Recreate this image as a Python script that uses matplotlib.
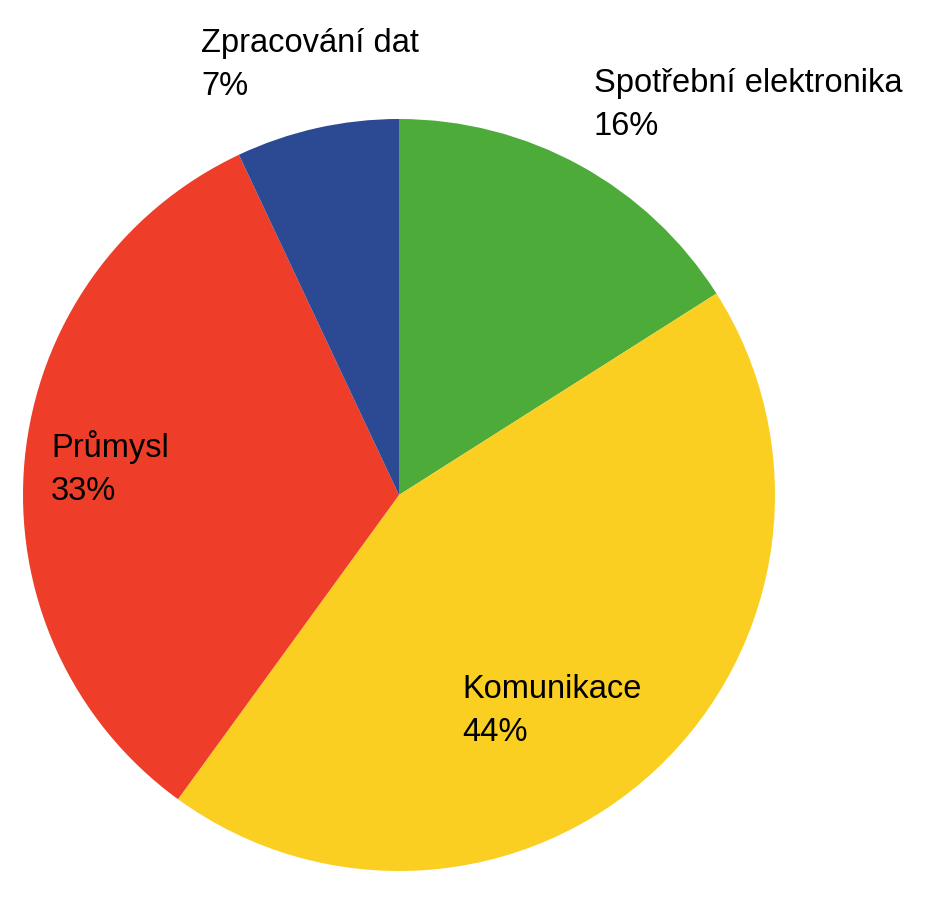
import matplotlib
matplotlib.use("Agg")
import matplotlib.pyplot as plt

# data
categories = ["Spotřební elektronika", "Komunikace", "Průmysl", "Zpracování dat"]
shares = [16, 44, 33, 7]
colors = ["#4DAB3A", "#FBCF22", "#EE3E2A", "#2C4A93"]

# label anchor (x, first-line baseline) in pixel coords, top-left origin
label_pos = [(594, 92), (462, 698), (51, 457), (201, 52)]
line_gap = 43

plt.rcParams["font.family"] = ["Liberation Sans", "DejaVu Sans"]

W, H = 933, 910
fig = plt.figure(figsize=(W / 100, H / 100), dpi=100)
ax = fig.add_axes([0, 0, 1, 1])

# pie in pixel coords; y axis inverted so counterclock=True draws clockwise on screen
ax.pie(shares, colors=colors, startangle=-90, counterclock=True,
       center=(399, 495), radius=376, frame=True,
       wedgeprops=dict(linewidth=0))
ax.set_xlim(0, W)
ax.set_ylim(H, 0)
ax.set_aspect("equal")
ax.axis("off")

for name, val, (x, y) in zip(categories, shares, label_pos):
    ax.text(x, y, name, fontsize=23.5, va="baseline", ha="left", color="black")
    ax.text(x, y + line_gap, f"{val}%", fontsize=23.5, va="baseline", ha="left", color="black")

fig.savefig("out.png", dpi=100)
